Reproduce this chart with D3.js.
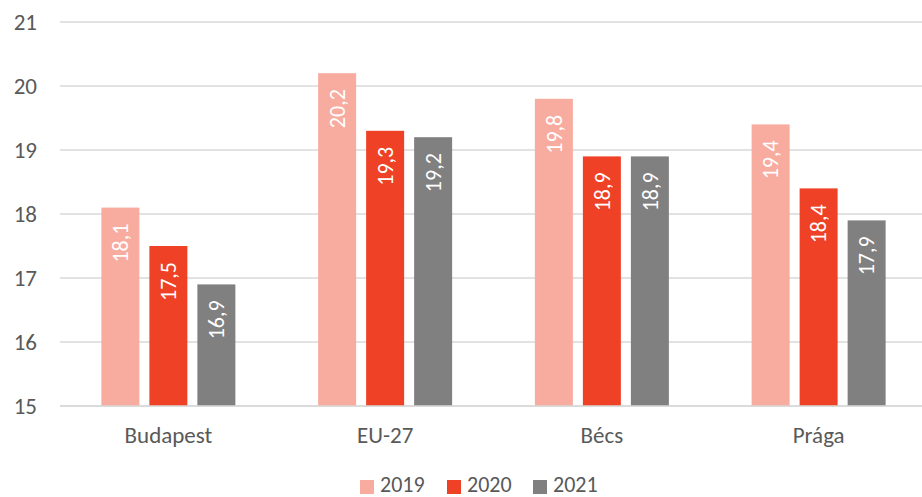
<!DOCTYPE html>
<html>
<head>
<meta charset="utf-8">
<script src="https://cdn.jsdelivr.net/npm/d3@7"></script>
<style>
  html, body { margin: 0; padding: 0; background: #fff; }
  svg { display: block; font-family: Carlito, "Open Sans", "Liberation Sans", sans-serif; }
</style>
</head>
<body>
<svg id="chart" width="922" height="497"></svg>
<script>
const categories = ["Budapest", "EU-27", "Bécs", "Prága"];
const years = ["2019", "2020", "2021"];
const values2019 = [18.1, 20.2, 19.8, 19.4];
const values2020 = [17.5, 19.3, 18.9, 18.4];
const values2021 = [16.9, 19.2, 18.9, 17.9];
const yTicks = [15, 16, 17, 18, 19, 20, 21];
const colors = ["#F8AC9F", "#EE4125", "#808080"];

const series = [values2019, values2020, values2021];
const fmt = v => v.toFixed(1).replace(".", ",");

const svg = d3.select("#chart");
const x = d3.scaleBand().domain(categories).range([60, 927]).paddingInner(0).paddingOuter(0);
const y = d3.scaleLinear().domain([15, 21]).range([406, 22]);

// inner band for the three years within each category
const barW = 38, barGap = 10;
const groupW = 3 * barW + 2 * barGap;
const xs = d3.scaleBand().domain(years).range([0, groupW])
  .paddingInner(barGap / (barW + barGap)).paddingOuter(0);

// gridlines
svg.append("g").selectAll("line").data(yTicks).join("line")
  .attr("x1", 60).attr("x2", 922)
  .attr("y1", d => y(d)).attr("y2", d => y(d))
  .attr("stroke", "#D9D9D9").attr("stroke-width", 1.3);

// y tick labels
svg.append("g").selectAll("text").data(yTicks).join("text")
  .attr("x", 37).attr("y", d => y(d))
  .attr("dy", "0.35em").attr("text-anchor", "end")
  .attr("font-size", 23).attr("fill", "#595959")
  .text(d => d);

// bars with rotated value labels
const groups = svg.append("g").selectAll("g").data(categories).join("g")
  .attr("transform", c => `translate(${x(c) + x.bandwidth() / 2 - groupW / 2},0)`);

groups.each(function(c, i) {
  const g = d3.select(this);
  years.forEach((yr, j) => {
    const v = series[j][i];
    const bx = xs(yr);
    g.append("rect")
      .attr("x", bx).attr("width", xs.bandwidth())
      .attr("y", y(v)).attr("height", y(15) - y(v))
      .attr("fill", colors[j]);
    g.append("text")
      .attr("transform", `translate(${bx + xs.bandwidth() / 2},${y(v) + 16}) rotate(-90)`)
      .attr("text-anchor", "end").attr("dy", "0.35em")
      .attr("font-size", 22).attr("fill", "#fff")
      .text(fmt(v));
  });
});

// baseline
svg.append("line").attr("x1", 60).attr("x2", 922)
  .attr("y1", y(15)).attr("y2", y(15))
  .attr("stroke", "#D9D9D9").attr("stroke-width", 1.3);

// category labels
svg.append("g").selectAll("text").data(categories).join("text")
  .attr("x", c => x(c) + x.bandwidth() / 2).attr("y", 443)
  .attr("text-anchor", "middle").attr("font-size", 23).attr("fill", "#595959")
  .text(c => c);

// legend
const legendX = [360, 447, 533];
const legend = svg.append("g").selectAll("g").data(years).join("g")
  .attr("transform", (d, i) => `translate(${legendX[i]},0)`);
legend.append("rect").attr("x", 0).attr("y", 480).attr("width", 14).attr("height", 14)
  .attr("fill", (d, i) => colors[i]);
legend.append("text").attr("x", 20).attr("y", 492)
  .attr("font-size", 22).attr("fill", "#595959").text(d => d);
</script>
</body>
</html>
